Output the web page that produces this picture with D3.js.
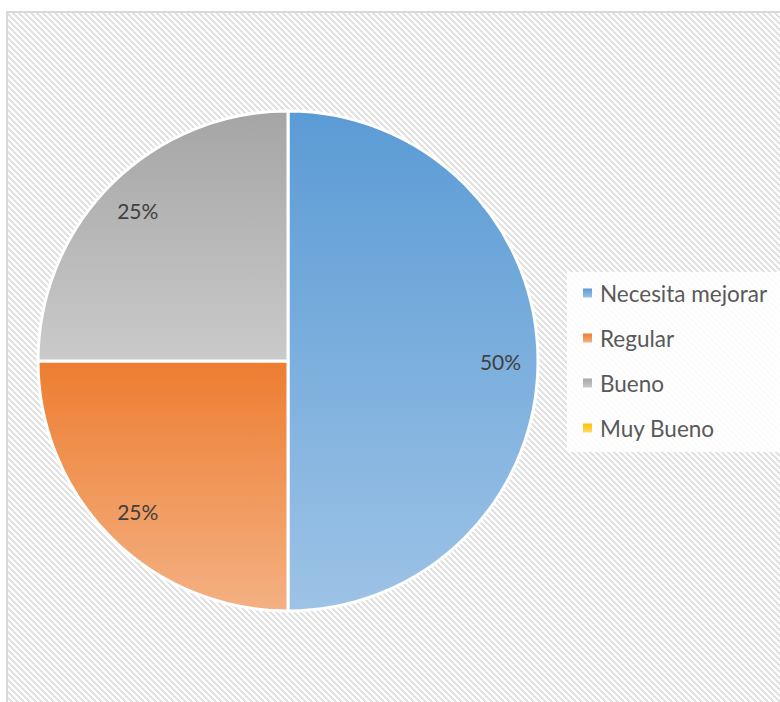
<!DOCTYPE html>
<html>
<head>
<meta charset="utf-8">
<script src="https://cdn.jsdelivr.net/npm/d3@7"></script>
<style>
  html, body { margin: 0; padding: 0; background: #ffffff; }
  svg { display: block; }
</style>
</head>
<body>
<svg id="chart" width="780" height="702"></svg>
<script>
// Category names and their shares (percent)
const categories = ["Necesita mejorar", "Regular", "Bueno", "Muy Bueno"];
const values = [50, 25, 25, 0];
const labels = ["50%", "25%", "25%", "0%"];
// Base colours and lighter tints for the vertical fill gradients
const baseColors = ["#5b9bd5", "#ed7d31", "#a5a5a5", "#ffc000"];
const tintColors = ["#9dc3e6", "#f4b183", "#cacaca", "#ffd966"];

const svg = d3.select("#chart");
const W = 780, H = 702;
const defs = svg.append("defs");

// Diagonal hatch for the chart area
const pat = defs.append("pattern")
  .attr("id", "hatch")
  .attr("patternUnits", "userSpaceOnUse")
  .attr("width", 6).attr("height", 6);
pat.append("rect").attr("width", 6).attr("height", 6).attr("fill", "#ffffff");
pat.append("path")
  .attr("d", "M-1,-1 L7,7 M-4,2 L2,8 M4,-2 L10,4")
  .attr("stroke", "#e2e2e2")
  .attr("stroke-width", 2)
  .attr("shape-rendering", "crispEdges");

// Per-slice vertical gradients
categories.forEach((c, i) => {
  const g = defs.append("linearGradient")
    .attr("id", "grad" + i)
    .attr("x1", 0).attr("y1", 0).attr("x2", 0).attr("y2", 1);
  g.append("stop").attr("offset", "0%").attr("stop-color", baseColors[i]);
  g.append("stop").attr("offset", "100%").attr("stop-color", tintColors[i]);
});

// Chart area with border
svg.append("rect")
  .attr("x", 7).attr("y", 12)
  .attr("width", W + 10).attr("height", H + 10)
  .attr("fill", "url(#hatch)")
  .attr("stroke", "#d9d9d9")
  .attr("stroke-width", 2);

// Pie
const cx = 288, cy = 361, r = 250;
const pie = d3.pie().sort(null).value(d => d.v);
const data = categories.map((c, i) => ({ c, v: values[i], i, label: labels[i] }));
const arcs = pie(data);
const arc = d3.arc().innerRadius(0).outerRadius(r);
const labelArc = d3.arc().innerRadius(r * 0.85).outerRadius(r * 0.85);

const g = svg.append("g").attr("transform", `translate(${cx},${cy})`);
g.selectAll("path.slice")
  .data(arcs.filter(d => d.data.v > 0))
  .join("path")
  .attr("class", "slice")
  .attr("d", arc)
  .attr("fill", d => `url(#grad${d.data.i})`)
  .attr("stroke", "#ffffff")
  .attr("stroke-width", 3)
  .attr("stroke-linejoin", "round");

g.selectAll("text.lbl")
  .data(arcs.filter(d => d.data.v > 0))
  .join("text")
  .attr("class", "lbl")
  .attr("transform", d => `translate(${labelArc.centroid(d)})`)
  .attr("text-anchor", "middle")
  .attr("dominant-baseline", "central")
  .attr("font-family", "Lato, 'Open Sans', sans-serif")
  .attr("font-size", 21)
  .attr("fill", "#404040")
  .text(d => d.data.label);

// Legend
const lg = svg.append("g");
lg.append("rect")
  .attr("x", 567).attr("y", 272)
  .attr("width", W - 567).attr("height", 180)
  .attr("fill", "#ffffff")
  .attr("fill-opacity", 0.88);

const legendY = d3.scalePoint().domain(categories).range([293, 428]);
const items = lg.selectAll("g.item")
  .data(data)
  .join("g")
  .attr("class", "item")
  .attr("transform", d => `translate(583,${legendY(d.c)})`);
items.append("rect")
  .attr("x", 0).attr("y", -4.5)
  .attr("width", 9).attr("height", 9)
  .attr("fill", d => `url(#grad${d.i})`);
items.append("text")
  .attr("x", 17).attr("y", 0)
  .attr("dominant-baseline", "central")
  .attr("font-family", "Lato, 'Open Sans', sans-serif")
  .attr("font-size", 22.5)
  .attr("fill", "#595959")
  .text(d => d.c);
</script>
</body>
</html>
